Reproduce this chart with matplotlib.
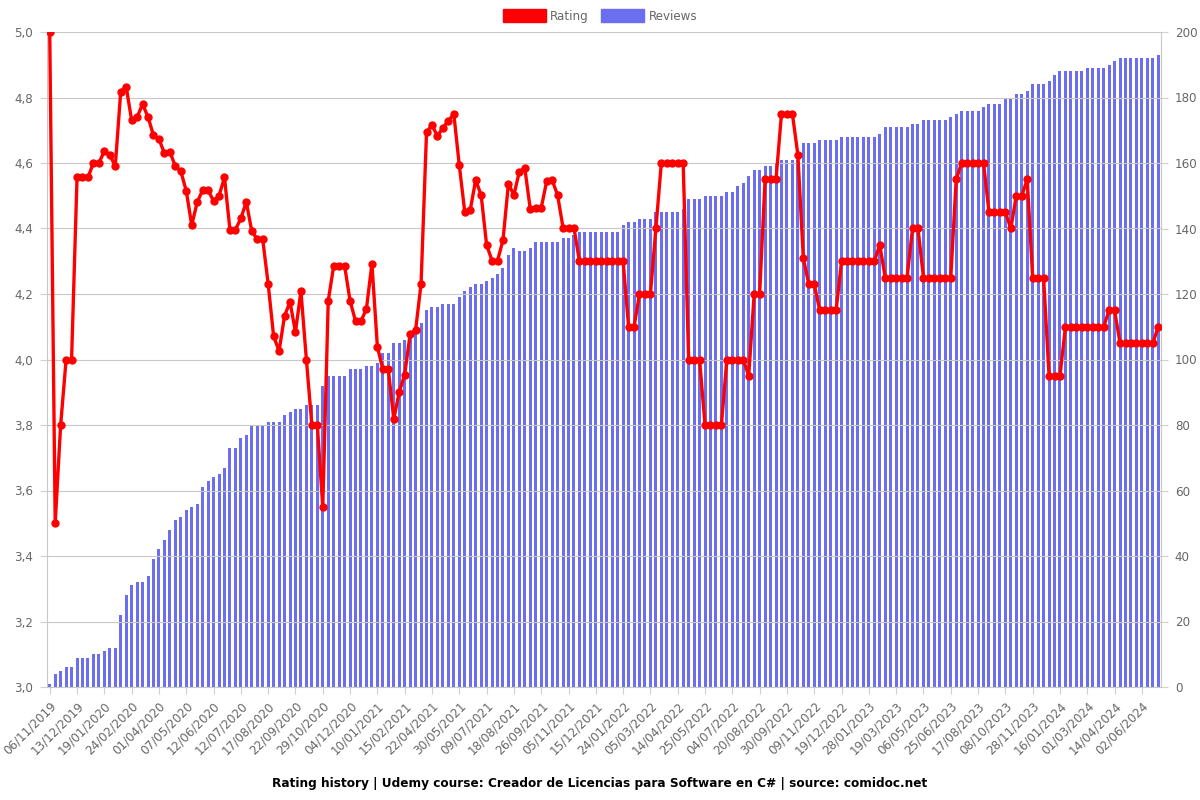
import matplotlib
matplotlib.use("Agg")
import matplotlib.pyplot as plt
from matplotlib.patches import Patch
import numpy as np

rating = [
    5.0, 3.5, 3.8, 4.0, 4.0, 4.556, 4.556, 4.556, 4.6, 4.6,
    4.636, 4.625, 4.59, 4.818, 4.833, 4.73, 4.74, 4.78, 4.74, 4.685,
    4.673, 4.63, 4.634, 4.59, 4.575, 4.515, 4.41, 4.48, 4.517, 4.517,
    4.484, 4.50, 4.556, 4.396, 4.396, 4.431, 4.481, 4.392, 4.367, 4.367,
    4.231, 4.071, 4.026, 4.133, 4.176, 4.084, 4.209, 4.0, 3.8, 3.8,
    3.55, 4.179, 4.286, 4.286, 4.286, 4.179, 4.117, 4.117, 4.155, 4.293,
    4.039, 3.97, 3.97, 3.818, 3.90, 3.954, 4.078, 4.09, 4.231, 4.694,
    4.716, 4.682, 4.708, 4.728, 4.75, 4.593, 4.451, 4.456, 4.548, 4.502,
    4.35, 4.302, 4.302, 4.364, 4.537, 4.502, 4.574, 4.584, 4.459, 4.463,
    4.463, 4.544, 4.548, 4.502, 4.402, 4.402, 4.402, 4.3, 4.3, 4.3,
    4.3, 4.3, 4.3, 4.3, 4.3, 4.3, 4.1, 4.1, 4.2, 4.2,
    4.2, 4.4, 4.6, 4.6, 4.6, 4.6, 4.6, 4.0, 4.0, 4.0,
    3.8, 3.8, 3.8, 3.8, 4.0, 4.0, 4.0, 4.0, 3.95, 4.2,
    4.2, 4.55, 4.55, 4.55, 4.75, 4.75, 4.75, 4.625, 4.31, 4.23,
    4.23, 4.15, 4.15, 4.15, 4.15, 4.3, 4.3, 4.3, 4.3, 4.3,
    4.3, 4.3, 4.35, 4.25, 4.25, 4.25, 4.25, 4.25, 4.4, 4.4,
    4.25, 4.25, 4.25, 4.25, 4.25, 4.25, 4.55, 4.6, 4.6, 4.6,
    4.6, 4.6, 4.45, 4.45, 4.45, 4.45, 4.4, 4.5, 4.5, 4.55,
    4.25, 4.25, 4.25, 3.95, 3.95, 3.95, 4.1, 4.1, 4.1, 4.1,
    4.1, 4.1, 4.1, 4.1, 4.15, 4.15, 4.05, 4.05, 4.05, 4.05,
    4.05, 4.05, 4.05, 4.1,
]

reviews = [
    1, 4, 5, 6, 6, 9, 9, 9, 10, 10,
    11, 12, 12, 22, 28, 31, 32, 32, 34, 39,
    42, 45, 48, 51, 52, 54, 55, 56, 61, 63,
    64, 65, 67, 73, 73, 76, 77, 80, 80, 80,
    81, 81, 81, 83, 84, 85, 85, 86, 86, 86,
    92, 95, 95, 95, 95, 97, 97, 97, 98, 98,
    99, 102, 102, 105, 105, 106, 108, 108, 111, 115,
    116, 116, 117, 117, 117, 119, 121, 122, 123, 123,
    124, 125, 126, 128, 132, 134, 133, 133, 134, 136,
    136, 136, 136, 136, 137, 137, 138, 139, 139, 139,
    139, 139, 139, 139, 139, 141, 142, 142, 143, 143,
    143, 145, 145, 145, 145, 145, 146, 149, 149, 149,
    150, 150, 150, 150, 151, 151, 153, 154, 156, 158,
    158, 159, 159, 160, 161, 161, 161, 161, 166, 166,
    166, 167, 167, 167, 167, 168, 168, 168, 168, 168,
    168, 168, 169, 171, 171, 171, 171, 171, 172, 172,
    173, 173, 173, 173, 173, 174, 175, 176, 176, 176,
    176, 177, 178, 178, 178, 180, 180, 181, 181, 182,
    184, 184, 184, 185, 187, 188, 188, 188, 188, 188,
    189, 189, 189, 189, 190, 191, 192, 192, 192, 192,
    192, 192, 192, 193,
]

tick_labels = [
    "06/11/2019", "13/12/2019", "19/01/2020", "24/02/2020", "01/04/2020",
    "07/05/2020", "12/06/2020", "12/07/2020", "17/08/2020", "22/09/2020",
    "29/10/2020", "04/12/2020", "10/01/2021", "15/02/2021", "22/04/2021",
    "30/05/2021", "09/07/2021", "18/08/2021", "26/09/2021", "05/11/2021",
    "15/12/2021", "24/01/2022", "05/03/2022", "14/04/2022", "25/05/2022",
    "04/07/2022", "20/08/2022", "30/09/2022", "09/11/2022", "19/12/2022",
    "28/01/2023", "19/03/2023", "06/05/2023", "25/06/2023", "17/08/2023",
    "08/10/2023", "28/11/2023", "16/01/2024", "01/03/2024", "14/04/2024",
    "02/06/2024",
]
label_step = 5

title = "Rating history | Udemy course: Creador de Licencias para Software en C# | source: comidoc.net"

RED = "#ff0000"
BLUE = "#6b6ef0"
TXT = "#666666"
FS = 8.6

plt.rcParams["font.family"] = ["DejaVu Sans"]

fig = plt.figure(figsize=(12, 8), dpi=100)
ax = fig.add_axes([47 / 1200, 1 - 687 / 800, (1161 - 47) / 1200, (687 - 32) / 800])
ax2 = ax.twinx()

n = len(rating)
x = np.arange(n)

ax2.bar(x, reviews, width=0.55, color=BLUE, zorder=2)
ax2.set_ylim(0, 200)
ax2.set_yticks(np.arange(0, 201, 20))
ax2.set_yticklabels([str(v) for v in range(0, 201, 20)])

ax.plot(x, rating, color=RED, linewidth=2.4, marker="o", markersize=5,
        markerfacecolor=RED, markeredgecolor=RED, zorder=5)
ax.set_ylim(3.0, 5.0)
yt = np.round(np.arange(3.0, 5.01, 0.2), 1)
ax.set_yticks(yt)
ax.set_yticklabels([f"{v:.1f}".replace(".", ",") for v in yt])

ax.set_xlim(-0.5, n - 0.5)
tpos = np.arange(0, len(tick_labels) * label_step, label_step)
ax.set_xticks(tpos)
ax.set_xticklabels(tick_labels, rotation=45, ha="right", rotation_mode="anchor",
                   fontsize=FS, color=TXT)

ax.set_zorder(ax2.get_zorder() + 1)
ax.patch.set_visible(False)

ax.grid(axis="y", color="#c8c8c8", linewidth=0.8)
ax2.set_axisbelow(True)
ax2.xaxis.grid(True, color="#e4e4e4", linewidth=0.8, zorder=0)
ax.xaxis.grid(False)

for a in (ax, ax2):
    for s in a.spines.values():
        s.set_visible(False)
    a.tick_params(colors="#d0d0d0", labelcolor=TXT, labelsize=FS, length=5, width=0.8, pad=5)
ax.spines["left"].set_visible(True)
ax.spines["left"].set_color("#c8c8c8")
ax.spines["bottom"].set_visible(True)
ax.spines["bottom"].set_color("#c8c8c8")
ax2.spines["right"].set_visible(True)
ax2.spines["right"].set_color("#c8c8c8")
ax.tick_params(axis="x", pad=4)

handles = [Patch(facecolor=RED, edgecolor=RED, label="Rating"),
           Patch(facecolor=BLUE, edgecolor=BLUE, label="Reviews")]
fig.legend(handles=handles, loc="center", bbox_to_anchor=(0.5, 1 - 16 / 800), ncol=2,
           frameon=False, fontsize=FS, handlelength=3.6, handleheight=1.2,
           columnspacing=1.0, handletextpad=0.4, labelcolor=TXT)

fig.text(0.5, 1 - 783 / 800, title, ha="center", va="center", fontsize=8.7,
         fontweight="bold", color="#000000")

fig.savefig("out.png", dpi=100)
